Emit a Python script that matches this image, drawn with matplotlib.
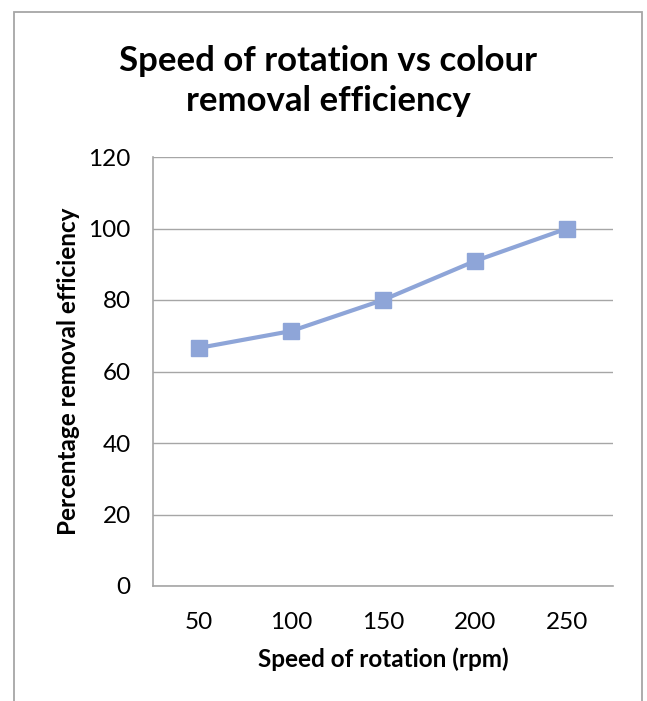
import matplotlib
matplotlib.use("Agg")
from matplotlib import pyplot as plt
from matplotlib.patches import Rectangle

plt.rcParams["font.family"] = ["Lato", "DejaVu Sans"]

speeds = ["50", "100", "150", "200", "250"]
efficiency = [66.6, 71.3, 80.0, 90.9, 100.0]
y_ticks = [0, 20, 40, 60, 80, 100, 120]

line_color = "#8EA5D8"
grid_color = "#A6A6A6"

fig = plt.figure(figsize=(6.47, 7.01), dpi=100)
fig.add_artist(Rectangle((14 / 647, -0.05), 628 / 647, 1.05 - 12 / 701,
                         transform=fig.transFigure, fill=False,
                         edgecolor="#A6A6A6", linewidth=1.3))

ax = fig.add_axes([153 / 647, 1 - 586 / 701, 460 / 647, 429 / 701])
x = range(len(speeds))
ax.plot(x, efficiency, color=line_color, linewidth=3,
        marker="s", markersize=11, markeredgecolor=line_color)

ax.set_xlim(-0.5, len(speeds) - 0.5)
ax.set_ylim(0, 120)
ax.set_xticks(list(x))
ax.set_xticklabels(speeds)
ax.set_yticks(y_ticks)
ax.tick_params(length=0, labelsize=17.5)
ax.tick_params(axis="x", pad=19)
ax.tick_params(axis="y", pad=16)
ax.grid(axis="y", color=grid_color, linewidth=1)
ax.set_axisbelow(True)
for side in ["top", "right"]:
    ax.spines[side].set_visible(False)
for side in ["left", "bottom"]:
    ax.spines[side].set_color(grid_color)
    ax.spines[side].set_linewidth(1.2)

ax.set_xlabel("Speed of rotation (rpm)", fontsize=17.5, fontweight="bold", labelpad=10)
ax.set_ylabel("Percentage removal efficiency", fontsize=17.5, fontweight="bold", labelpad=6)

fig.text(0.507, 1 - 81 / 701, "Speed of rotation vs colour\nremoval efficiency",
         ha="center", va="center", fontsize=25, fontweight="bold", linespacing=1.32)

fig.savefig("out.png", dpi=100)
